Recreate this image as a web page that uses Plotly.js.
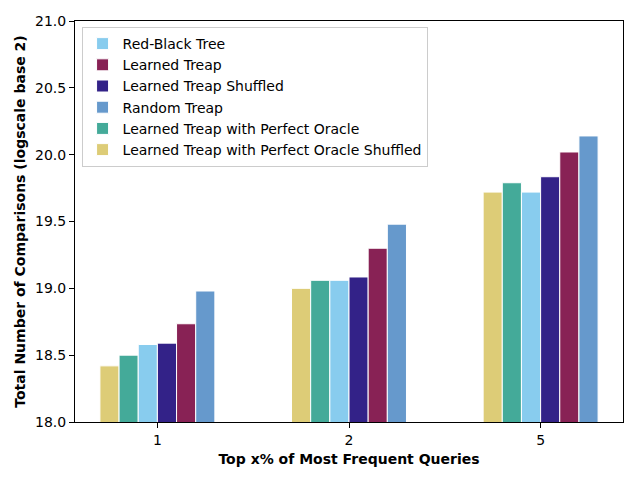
<!DOCTYPE html>
<html>
<head>
<meta charset="utf-8">
<script src="https://cdn.plot.ly/plotly-3.0.1.min.js"></script>
<style>
  html, body { margin: 0; padding: 0; background: #fff; }
  #grafico { width: 640px; height: 480px; }
</style>
</head>
<body>
<div id="grafico"></div>
<script>
"use strict";

// Grupos del eje X (top x% de consultas)
const posiciones = [0, 1, 2];
const etiquetasX = ["1", "2", "5"];

// Valores por serie (log2 del numero de comparaciones)
const oraculoBarajado = [18.42, 19.00, 19.72];
const oraculo = [18.50, 19.06, 19.79];
const rojoNegro = [18.58, 19.06, 19.72];
const treapBarajado = [18.59, 19.085, 19.835];
const treapAprendido = [18.735, 19.30, 20.02];
const treapAleatorio = [18.98, 19.48, 20.14];

// Orden de dibujo de izquierda a derecha dentro de cada grupo
const series = [
    { nombre: "Learned Treap with Perfect Oracle Shuffled", valores: oraculoBarajado, color: "#DDCC77", rango: 6 },
    { nombre: "Learned Treap with Perfect Oracle", valores: oraculo, color: "#44AA99", rango: 5 },
    { nombre: "Red-Black Tree", valores: rojoNegro, color: "#88CCEE", rango: 1 },
    { nombre: "Learned Treap Shuffled", valores: treapBarajado, color: "#332288", rango: 3 },
    { nombre: "Learned Treap", valores: treapAprendido, color: "#882255", rango: 2 },
    { nombre: "Random Treap", valores: treapAleatorio, color: "#6699CC", rango: 4 }
];

const trazas = series.map(s => ({
    x: posiciones,
    y: s.valores,
    type: 'bar',
    name: s.nombre,
    legendrank: s.rango,
    marker: { color: s.color, line: { color: '#ffffff', width: 1 } }
}));

const fuente = "DejaVu Sans, sans-serif";

const layout = {
    width: 640,
    height: 480,
    margin: { l: 75, r: 17, t: 21, b: 58 },
    paper_bgcolor: '#ffffff',
    plot_bgcolor: '#ffffff',
    barmode: 'group',
    bargap: 0.4,
    bargroupgap: 0,
    font: { family: fuente, size: 14, color: '#000' },
    showlegend: true,
    legend: {
        x: 0.012, y: 0.985, xanchor: 'left', yanchor: 'top',
        bgcolor: 'rgba(255,255,255,0.8)',
        bordercolor: '#cccccc', borderwidth: 1,
        font: { family: fuente, size: 14 },
        tracegroupgap: 0
    },
    xaxis: {
        range: [-0.43, 2.43],
        tickvals: posiciones,
        ticktext: etiquetasX,
        ticks: 'outside', ticklen: 5, tickwidth: 1, tickcolor: '#000',
        showline: true, linecolor: '#000', linewidth: 1, mirror: true,
        showgrid: false, zeroline: false,
        tickfont: { family: fuente, size: 14 },
        title: {
            text: '<b>Top x% of Most Frequent Queries</b>',
            font: { family: fuente, size: 14 },
            standoff: 7
        }
    },
    yaxis: {
        range: [18.0, 21.0],
        tickvals: [18.0, 18.5, 19.0, 19.5, 20.0, 20.5, 21.0],
        tickformat: '.1f',
        ticks: 'outside', ticklen: 5, tickwidth: 1, tickcolor: '#000',
        showline: true, linecolor: '#000', linewidth: 1, mirror: true,
        showgrid: false, zeroline: false,
        tickfont: { family: fuente, size: 14 },
        title: {
            text: '<b>Total Number of Comparisons (logscale base 2)</b>',
            font: { family: fuente, size: 14 },
            standoff: 6
        }
    }
};

const config = { displayModeBar: false, staticPlot: true };

Plotly.newPlot('grafico', trazas, layout, config);
</script>
</body>
</html>
